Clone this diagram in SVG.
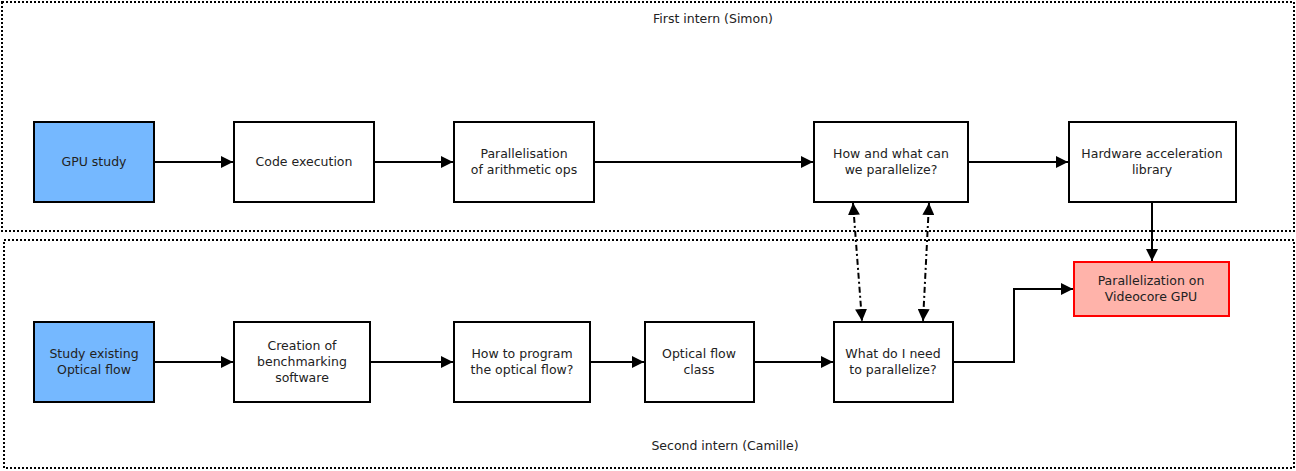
<svg xmlns="http://www.w3.org/2000/svg" width="1296" height="471" viewBox="0 0 1296 471">
<style>
.frame{fill:none;stroke:#000;stroke-width:2;stroke-dasharray:2 2}
.box{fill:#fff;stroke:#000;stroke-width:2}
.blue{fill:#75b8ff}
.red{fill:#ffb3aa;stroke:#f00}
.t{font-family:"DejaVu Sans",sans-serif;font-size:12.5px;fill:#222;text-anchor:middle}
.e{fill:none;stroke:#000;stroke-width:2}
.dd{stroke-dasharray:6 3 2 3}
</style>
<defs>
<marker id="a" markerUnits="userSpaceOnUse" markerWidth="14" markerHeight="12" refX="12" refY="6" orient="auto-start-reverse">
<path d="M0,0 L12,6 L0,12 Z" fill="#000"/>
</marker>
</defs>
<g id="lanes">
<rect class="frame" x="2" y="2" width="1292" height="229"/>
<text class="t" x="713" y="23">First intern (Simon)</text>
<rect class="frame" x="4" y="240" width="1290" height="228"/>
<text class="t" x="725" y="450">Second intern (Camille)</text>
</g>
<g id="connectors">
<path class="e" d="M154,162 H233" marker-end="url(#a)"/>
<path class="e" d="M374,162 H453" marker-end="url(#a)"/>
<path class="e" d="M594,162 H813" marker-end="url(#a)"/>
<path class="e" d="M968,162 H1068" marker-end="url(#a)"/>
<path class="e" d="M1152,202 V261" marker-end="url(#a)"/>
<path class="e" d="M154,362 H233" marker-end="url(#a)"/>
<path class="e" d="M370,362 H453" marker-end="url(#a)"/>
<path class="e" d="M590,362 H644" marker-end="url(#a)"/>
<path class="e" d="M754,362 H833" marker-end="url(#a)"/>
<path class="e" d="M953,362 H1014 V289 H1073" marker-end="url(#a)"/>
<path class="e dd" d="M853,203 L862,321" marker-start="url(#a)" marker-end="url(#a)"/>
<path class="e dd" d="M929,203 L923,321" marker-start="url(#a)" marker-end="url(#a)"/>
</g>
<g id="gpu-study"><rect class="box blue" x="34" y="122" width="120" height="80"/><text class="t" x="94" y="166">GPU study</text></g>
<g id="code-execution"><rect class="box" x="234" y="122" width="140" height="80"/><text class="t" x="304" y="166">Code execution</text></g>
<g id="parallelisation"><rect class="box" x="454" y="122" width="140" height="80"/><text class="t" x="524" y="158">Parallelisation</text><text class="t" x="524" y="174">of arithmetic ops</text></g>
<g id="how-what"><rect class="box" x="814" y="122" width="154" height="80"/><text class="t" x="891" y="158">How and what can</text><text class="t" x="891" y="174">we parallelize?</text></g>
<g id="hw-lib"><rect class="box" x="1069" y="122" width="167" height="80"/><text class="t" x="1152" y="158">Hardware acceleration</text><text class="t" x="1152" y="174">library</text></g>
<g id="videocore"><rect class="box red" x="1074" y="262" width="155" height="54"/><text class="t" x="1151" y="285">Parallelization on</text><text class="t" x="1151" y="301">Videocore GPU</text></g>
<g id="study-optical"><rect class="box blue" x="34" y="322" width="120" height="80"/><text class="t" x="94" y="358">Study existing</text><text class="t" x="94" y="374">Optical flow</text></g>
<g id="benchmark"><rect class="box" x="234" y="322" width="136" height="80"/><text class="t" x="302" y="350">Creation of</text><text class="t" x="302" y="366">benchmarking</text><text class="t" x="302" y="382">software</text></g>
<g id="how-program"><rect class="box" x="454" y="322" width="136" height="80"/><text class="t" x="522" y="358">How to program</text><text class="t" x="522" y="374">the optical flow?</text></g>
<g id="optical-class"><rect class="box" x="645" y="322" width="109" height="80"/><text class="t" x="699" y="358">Optical flow</text><text class="t" x="699" y="374">class</text></g>
<g id="what-need"><rect class="box" x="834" y="322" width="119" height="80"/><text class="t" x="893" y="358">What do I need</text><text class="t" x="893" y="374">to parallelize?</text></g>
</svg>
